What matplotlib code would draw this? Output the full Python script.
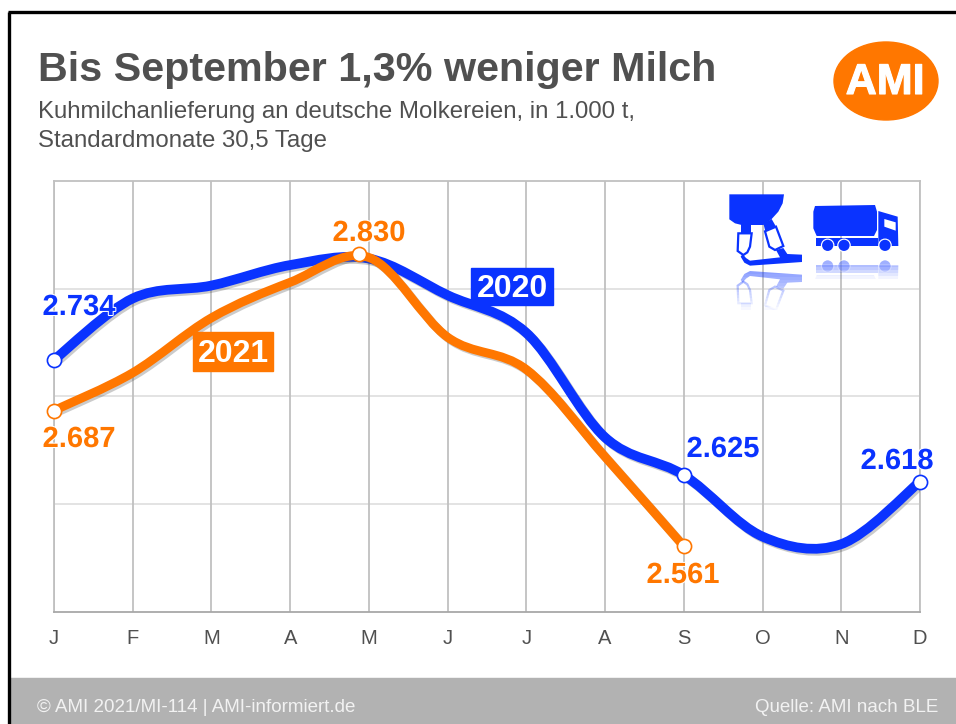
import numpy as np
import matplotlib
matplotlib.use("Agg")
import matplotlib.pyplot as plt
import matplotlib.patheffects as pe
from matplotlib.path import Path
from matplotlib.patches import PathPatch, Polygon, Circle, Rectangle, Ellipse

# values (1.000 t)
months = ["J", "F", "M", "A", "M", "J", "J", "A", "S", "O", "N", "D"]
milk_2020 = [2734, 2791, 2803, 2822, 2828, 2794, 2759, 2662, 2627, 2570, 2563, 2621]
milk_2021 = [2687, 2722, 2773, 2806, 2829, 2755, 2725, 2644, 2561]
grid_levels = [2600, 2700, 2800]

# end and peak markers of the two lines (position on the month axis, value)
marker_pos_2020 = [0, 8, 11]
marker_val_2020 = [2734, 2627, 2621]
marker_pos_2021 = [0, 3.88, 8]
marker_val_2021 = [2687, 2832, 2561]

BLUE = "#0a33ff"
ORANGE = "#ff7700"
TEXT_GREY = "#505050"
FONT = "Liberation Sans"

plt.rcParams['font.family'] = [FONT, 'DejaVu Sans']

W, H = 956, 724
fig = plt.figure(figsize=(W / 100, H / 100), dpi=100)


def smooth_path(ys):
    # excel style smoothed line: bezier segments through each point
    pts = np.column_stack([np.arange(len(ys)), ys]).astype(float)
    verts = [pts[0]]
    codes = [Path.MOVETO]
    for i in range(len(pts) - 1):
        p0 = pts[max(i - 1, 0)]
        p1 = pts[i]
        p2 = pts[i + 1]
        p3 = pts[min(i + 2, len(pts) - 1)]
        verts += [p1 + (p2 - p0) / 6, p2 - (p3 - p1) / 6, p2]
        codes += [Path.CURVE4] * 3
    return Path(verts, codes)


# main plot area, 54..920 / 181..612 in pixels
ax = fig.add_axes([54 / W, 1 - 612 / H, 866 / W, 431 / H])
ax.set_xlim(0, 11)
ax.set_ylim(2500, 2900)
ax.set_xticks(range(12))
ax.set_xticklabels(months, fontsize=14.5, color=TEXT_GREY)
ax.set_yticks([])
ax.tick_params(axis='x', length=0, pad=12.5)
ax.xaxis.grid(True, color="#c0c0c0", linewidth=1.3)
ax.set_axisbelow(True)
for lev in grid_levels:
    ax.axhline(lev, color="#e0e0e0", linewidth=1.3, zorder=0.5)
for side in ax.spines:
    ax.spines[side].set_color("#c0c0c0")
    ax.spines[side].set_linewidth(1.3)
ax.spines['bottom'].set_color("#a8a8a8")

shadow = [pe.SimpleLineShadow(offset=(1.5, -1.5), shadow_color="#555555", alpha=0.3), pe.Normal()]
for values, col, lw, zo in [(milk_2020, BLUE, 7.0, 3), (milk_2021, ORANGE, 6.4, 4)]:
    patch = PathPatch(smooth_path(values), fill=False, edgecolor=col, linewidth=lw,
                      capstyle='round', zorder=zo)
    patch.set_path_effects(shadow)
    ax.add_patch(patch)

# open markers
for xs, ys, col in [(marker_pos_2020, marker_val_2020, BLUE),
                    (marker_pos_2021, marker_val_2021, ORANGE)]:
    ax.plot(xs, ys, linestyle='none', marker='o', markersize=10.2, markerfacecolor='white',
            markeredgecolor=col, markeredgewidth=1.2, zorder=6, clip_on=False)

# everything else placed in pixels on a transparent overlay
ov = fig.add_axes([0, 0, 1, 1], zorder=5)
ov.set_xlim(0, W)
ov.set_ylim(H, 0)
ov.axis('off')

# outer frame and footer
ov.add_patch(Rectangle((10, 678), W - 10, 46, color="#b2b2b2", zorder=1))
ov.plot([9, 9], [H, 12], color='black', linewidth=2.4, solid_capstyle='butt', zorder=2)
ov.plot([8, W], [12, 12], color='black', linewidth=2.4, solid_capstyle='butt', zorder=2)

ov.text(38, 70, "Bis September 1,3% weniger Milch", fontsize=29.7, fontweight='bold',
        color=TEXT_GREY, va='center', ha='left')
ov.text(38, 112, "Kuhmilchanlieferung an deutsche Molkereien, in 1.000 t,", fontsize=17.3,
        color=TEXT_GREY, va='center', ha='left')
ov.text(38, 141, "Standardmonate 30,5 Tage", fontsize=17.3,
        color=TEXT_GREY, va='center', ha='left')

ov.text(37, 708, "© AMI 2021/MI-114 | AMI-informiert.de", fontsize=13.5, color="#f2f2f2",
        va='center', ha='left')
ov.text(938, 708, "Quelle: AMI nach BLE", fontsize=13.5, color="#f2f2f2", va='center', ha='right')

# logo
ov.add_patch(Ellipse((886, 81), 104, 78, color=ORANGE, zorder=3))
ov.text(885, 83, "AMI", fontsize=31, fontweight='bold', color='white', va='center', ha='center',
        path_effects=[pe.withStroke(linewidth=0.8, foreground='white')], zorder=4)

# value labels
halo = [pe.withStroke(linewidth=1.5, foreground='white')]
value_labels = [("2.734", 79, 307, BLUE), ("2.687", 79, 439, ORANGE), ("2.830", 369, 233, ORANGE),
                ("2.625", 723, 449, BLUE), ("2.561", 683, 575, ORANGE), ("2.618", 897, 461, BLUE)]
for txt, x, y, col in value_labels:
    ov.text(x, y, txt, fontsize=21, fontweight='bold', color=col, va='center', ha='center',
            path_effects=halo, zorder=5)

# series tags
ov.add_patch(Rectangle((471, 268), 82, 37, color=BLUE, zorder=4))
ov.text(512.5, 289, "2020", fontsize=23, fontweight='bold', color='white', va='center', ha='center',
        zorder=5)
ov.add_patch(Rectangle((193, 332), 80, 39, color=ORANGE, zorder=4))
ov.text(233, 354, "2021", fontsize=23, fontweight='bold', color='white', va='center', ha='center',
        zorder=5)


# icons, traced in the coordinates of a 3x crop starting at (700, 20)
def mapped(points, mirror=None):
    out = []
    for x, y in points:
        if mirror is not None:
            y = 2 * mirror - y
        out.append((700 + x / 3, 20 + y / 3))
    return out


bowl = [(88, 523), (252, 523), (248, 550), (235, 575), (215, 597), (190, 615), (125, 615),
        (105, 610), (88, 598)]
stem_l = [(122, 612), (152, 612), (152, 640), (122, 640)]
stem_r = [(190, 610), (215, 597), (228, 620), (196, 634)]
cup_l = [(115, 640), (155, 640), (150, 680), (142, 697), (130, 705), (113, 693)]
cup_r = [(195, 634), (228, 620), (250, 678), (225, 690), (208, 680)]
hose = [(128, 702), (138, 714), (150, 722), (240, 712), (228, 690), (250, 684), (262, 702), (306, 704),
        (306, 726), (150, 737), (133, 728), (122, 710)]
tank = [(345, 558), (525, 555), (531, 575), (531, 630), (522, 648), (350, 648), (340, 625), (340, 575)]
chassis = [(347, 655), (535, 655), (535, 678), (347, 678)]
cab = [(535, 573), (593, 590), (595, 678), (535, 678)]
window = [(553, 597), (587, 607), (587, 632), (553, 620)]
wheels = [(383, 676), (432, 676), (555, 676)]


def add_art(arts, clip):
    for a in arts:
        a.set_zorder(3)
        ov.add_patch(a)
        if clip is not None:
            a.set_clip_path(clip)


def draw_milker(mirror=None, alpha=1.0, clip=None):
    arts = [Polygon(mapped(p, mirror), color=BLUE, lw=0, alpha=alpha)
            for p in [bowl, stem_l, stem_r, hose]]
    arts += [Polygon(mapped(p, mirror), closed=True, facecolor='none', edgecolor=BLUE, lw=1.6,
                     alpha=alpha) for p in [cup_l, cup_r]]
    add_art(arts, clip)


def draw_truck(mirror=None, alpha=1.0, clip=None):
    arts = [Polygon(mapped(p, mirror), color=BLUE, lw=0, alpha=alpha) for p in [tank, chassis, cab]]
    arts.append(Polygon(mapped(window, mirror), color='white', lw=0, alpha=alpha))
    for c in wheels:
        cx, cy = mapped([c], mirror)[0]
        arts.append(Circle((cx, cy), 6.8, color='white', lw=0, alpha=alpha))
        arts.append(Circle((cx, cy), 5.6, color=BLUE, lw=0, alpha=alpha))
    add_art(arts, clip)


draw_milker()
draw_truck()

# reflections, fading out downwards in thin bands
for top, fade in zip(range(268, 310, 3), np.linspace(0.5, 0.03, 14)):
    draw_milker(mirror=745, alpha=fade, clip=Rectangle((725, top), 85, 3, transform=ov.transData))
for top, fade in zip(range(258, 279, 3), np.linspace(0.45, 0.05, 7)):
    draw_truck(mirror=707, alpha=fade, clip=Rectangle((810, top), 95, 3, transform=ov.transData))

fig.savefig("out.png", dpi=100)
